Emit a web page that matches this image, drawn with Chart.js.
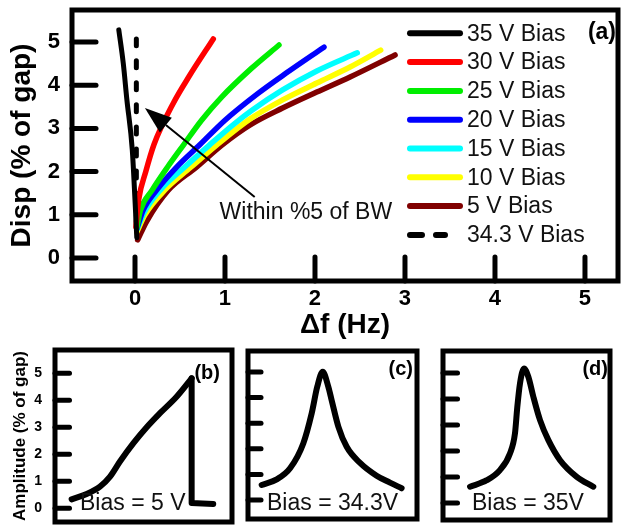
<!DOCTYPE html>
<html><head><meta charset="utf-8">
<script src="https://cdn.jsdelivr.net/npm/chart.js@4.4.1/dist/chart.umd.min.js"></script>
<style>
html,body{margin:0;padding:0;background:#fff;width:621px;height:529px;overflow:hidden;}
canvas{position:absolute;display:block;}
</style></head><body>
<canvas id="ca" width="621" height="340" style="left:0;top:0"></canvas>
<canvas id="cb" width="240" height="194" style="left:0;top:335px"></canvas>
<canvas id="cc" width="190" height="194" style="left:240px;top:335px"></canvas>
<canvas id="cd" width="191" height="194" style="left:430px;top:335px"></canvas>
<script>
// ---------- data ----------
const seriesLabels = ['35 V Bias','30 V Bias','25 V Bias','20 V Bias','15 V Bias','10 V Bias','5 V Bias','34.3 V Bias'];
const seriesColors = ['#000000','#ff0000','#00ee00','#0000ff','#00ffff','#ffff00','#800000','#000000'];
const bias35 = [[-0.18,5.28],[-0.13,4.5],[-0.09,3.66],[-0.03,2.5],[0.0,1.34],[0.02,0.47]];
const bias30 = [[0.01,0.72],[0.04,1.34],[0.12,2.0],[0.21,2.62],[0.43,3.6],[0.6,4.2],[0.87,5.07]];
const bias25 = [[0.02,0.69],[0.06,1.1],[0.19,1.57],[0.36,2.1],[0.54,2.62],[0.74,3.19],[0.96,3.72],[1.3,4.4],[1.6,4.93]];
const bias20 = [[0.02,0.67],[0.09,1.1],[0.24,1.57],[0.46,2.1],[0.72,2.62],[1.0,3.19],[1.36,3.8],[1.68,4.28],[2.1,4.88]];
const bias15 = [[0.02,0.65],[0.1,1.05],[0.28,1.57],[0.55,2.1],[0.83,2.62],[1.1,3.1],[1.3,3.42],[1.64,3.89],[2.02,4.33],[2.47,4.75]];
const bias10 = [[0.02,0.6],[0.11,1.0],[0.33,1.57],[0.62,2.1],[0.91,2.62],[1.28,3.22],[1.64,3.66],[2.02,4.05],[2.39,4.42],[2.73,4.81]];
const bias5  = [[0.03,0.42],[0.13,0.85],[0.37,1.57],[0.68,2.1],[0.97,2.62],[1.28,3.08],[1.64,3.47],[2.02,3.84],[2.39,4.19],[2.89,4.7]];
const bias34_3 = [[0.015,5.07],[0.015,0.55]];
const xTicksA = [0,1,2,3,4,5];
const yTicksA = [0,1,2,3,4,5];
const arrowTail = [1.33,1.41];
const arrowTip = [0.11,3.47];
const annotationText = 'Within %5 of BW';

const panelTicks = [0,1,2,3,4,5];
const panelBRise = [[0.094,0.33],[0.179,0.53],[0.254,0.8],[0.311,1.17],[0.367,1.73],[0.443,2.41],[0.518,3.0],[0.593,3.52],[0.687,4.13],[0.772,4.81]];
const panelBDrop = [[0.772,4.81],[0.772,0.19],[0.894,0.16]];
const panelC = [[0.081,0.59],[0.17,0.81],[0.249,1.24],[0.327,2.21],[0.377,3.39],[0.41,4.43],[0.442,5.01],[0.475,4.43],[0.495,3.9],[0.535,2.86],[0.584,2.08],[0.663,1.45],[0.761,0.95],[0.84,0.68],[0.909,0.46]];
const panelD = [[0.162,0.63],[0.262,0.88],[0.341,1.27],[0.401,1.91],[0.431,2.68],[0.445,3.7],[0.461,4.6],[0.485,5.18],[0.511,4.86],[0.541,4.09],[0.581,3.19],[0.631,2.42],[0.701,1.65],[0.801,1.01],[0.9,0.63]];

// ---------- helpers ----------
const FAM = "'Liberation Sans', Arial, Helvetica, sans-serif";
Chart.defaults.font.family = FAM;
Chart.defaults.color = '#000';

const pts = arr => arr.map(([x,y]) => ({x, y}));
function lineDS(label, arr, color, extra) {
  return Object.assign({
    label, data: pts(arr), borderColor: color, backgroundColor: color,
    borderWidth: 5.5, pointRadius: 0, pointHoverRadius: 0, showLine: true, fill: false,
    cubicInterpolationMode: 'monotone', borderCapStyle: 'round', borderJoinStyle: 'round'
  }, extra || {});
}
function noPadV(s) { s.paddingTop = 0; s.paddingBottom = 0; }
function noPadH(s) { s.paddingLeft = 0; s.paddingRight = 0; }

const frameTicks = {
  id: 'frameTicks',
  beforeDatasetsDraw(chart, args, o) {
    const {ctx, chartArea: a, scales} = chart;
    ctx.save();
    ctx.strokeStyle = '#000';
    ctx.lineWidth = o.frameWidth;
    ctx.strokeRect(a.left, a.top, a.right - a.left, a.bottom - a.top);
    ctx.lineCap = 'round';
    ctx.lineWidth = o.tickWidth;
    (o.yTicks || []).forEach(v => {
      const y = scales.y.getPixelForValue(v);
      ctx.beginPath(); ctx.moveTo(a.left, y); ctx.lineTo(a.left + o.tickLen, y); ctx.stroke();
    });
    (o.xTicks || []).forEach(v => {
      const x = scales.x.getPixelForValue(v);
      ctx.beginPath(); ctx.moveTo(x, a.bottom); ctx.lineTo(x, a.bottom - o.tickLen); ctx.stroke();
    });
    ctx.restore();
  }
};

const texts = {
  id: 'texts',
  afterDatasetsDraw(chart, args, o) {
    const {ctx, scales} = chart;
    ctx.save();
    (o.items || []).forEach(t => {
      ctx.font = t.font;
      ctx.fillStyle = t.color || '#000';
      ctx.textAlign = t.align || 'left';
      ctx.textBaseline = 'middle';
      let x = t.x, y = t.y;
      if (t.dataX !== undefined) { x = scales.x.getPixelForValue(t.dataX); y = scales.y.getPixelForValue(t.dataY); }
      ctx.fillText(t.text, x, y);
    });
    ctx.restore();
  }
};

const arrowPlugin = {
  id: 'arrow',
  afterDatasetsDraw(chart, args, o) {
    if (!o.tail) return;
    const {ctx, scales} = chart;
    const x1 = scales.x.getPixelForValue(o.tail[0]), y1 = scales.y.getPixelForValue(o.tail[1]);
    const x2 = scales.x.getPixelForValue(o.tip[0]), y2 = scales.y.getPixelForValue(o.tip[1]);
    const ang = Math.atan2(y2 - y1, x2 - x1);
    const L = 27, W = 9.5;
    const bx = x2 - L * Math.cos(ang), by = y2 - L * Math.sin(ang);
    ctx.save();
    ctx.strokeStyle = '#000'; ctx.fillStyle = '#000'; ctx.lineWidth = 2;
    ctx.beginPath(); ctx.moveTo(x1, y1); ctx.lineTo(bx, by); ctx.stroke();
    ctx.beginPath();
    ctx.moveTo(x2, y2);
    ctx.lineTo(bx + W * Math.sin(ang), by - W * Math.cos(ang));
    ctx.lineTo(bx - W * Math.sin(ang), by + W * Math.cos(ang));
    ctx.closePath(); ctx.fill();
    ctx.restore();
  }
};

const legendPlugin = {
  id: 'customLegend',
  afterDatasetsDraw(chart, args, o) {
    if (!o.display) return;
    const {ctx} = chart;
    ctx.save();
    ctx.font = o.font;
    ctx.textBaseline = 'middle';
    ctx.textAlign = 'left';
    chart.data.datasets.forEach((ds, i) => {
      const y = o.top + i * o.step;
      ctx.strokeStyle = ds.borderColor;
      ctx.lineWidth = 6;
      ctx.lineCap = 'round';
      ctx.beginPath();
      if (ds.borderDash) {
        ctx.moveTo(o.x0 + 3, y); ctx.lineTo(o.x0 + 15, y);
        ctx.moveTo(o.x0 + 29, y); ctx.lineTo(o.x0 + 38, y);
      } else {
        ctx.moveTo(o.x0 + 3, y); ctx.lineTo(o.x1 - 3, y);
      }
      ctx.stroke();
      ctx.fillStyle = '#111';
      ctx.fillText(ds.label, o.x1 + 4, y + 1);
    });
    ctx.restore();
  }
};

const common = {responsive: false, animation: false, devicePixelRatio: 1, events: []};

// ---------- main chart (a) ----------
const mainSeries = [bias35, bias30, bias25, bias20, bias15, bias10, bias5, bias34_3];
const mainDatasets = mainSeries.map((arr, i) => lineDS(seriesLabels[i], arr, seriesColors[i]));
mainDatasets[0].borderWidth = 5;
mainDatasets[7].borderDash = [7, 15];
mainDatasets[7].borderWidth = 5;

new Chart(document.getElementById('ca'), {
  type: 'scatter',
  data: {datasets: mainDatasets},
  plugins: [frameTicks, texts, arrowPlugin, legendPlugin],
  options: Object.assign({}, common, {
    layout: {padding: {left: 0, right: 3, top: 10, bottom: 0}},
    plugins: {
      legend: {display: false}, tooltip: {enabled: false},
      frameTicks: {frameWidth: 5, tickWidth: 5, tickLen: 24, xTicks: xTicksA, yTicks: yTicksA},
      arrow: {tail: arrowTail, tip: arrowTip},
      customLegend: {display: true, font: '23px ' + FAM, top: 33.3, step: 28.8, x0: 407, x1: 463},
      texts: {items: [
        {text: annotationText, dataX: 0.94, dataY: 1.06, font: '23px ' + FAM, color: '#111'},
        {text: '(a)', x: 616, y: 33, align: 'right', font: 'bold 23px ' + FAM}
      ]}
    },
    scales: {
      x: {
        type: 'linear', position: 'bottom', min: -0.7, max: 5.367,
        afterBuildTicks: s => { s.ticks = xTicksA.map(v => ({value: v})); },
        afterFit: s => { s.height = 59; noPadH(s); },
        grid: {display: false, drawTicks: false}, border: {display: false},
        ticks: {font: {size: 22, weight: 'bold'}, color: '#000', padding: 5, maxRotation: 0, autoSkip: false},
        title: {display: true, text: 'Δf (Hz)', font: {size: 28, weight: 'bold'}, color: '#000', padding: {top: 0, bottom: -2}}
      },
      y: {
        type: 'linear', position: 'left', min: -0.532, max: 5.74,
        afterBuildTicks: s => { s.ticks = yTicksA.map(v => ({value: v})); },
        afterFit: s => { s.width = 72; noPadV(s); },
        grid: {display: false, drawTicks: false}, border: {display: false},
        ticks: {font: {size: 22, weight: 'bold'}, color: '#000', padding: 12},
        title: {display: true, text: 'Disp (% of gap)', font: {size: 28, weight: 'bold'}, color: '#000', padding: {top: 5, bottom: 0}}
      }
    }
  })
});

// ---------- panel (b) ----------
new Chart(document.getElementById('cb'), {
  type: 'scatter',
  data: {datasets: [
    lineDS('Bias = 5 V', panelBRise, '#000', {borderWidth: 6}),
    lineDS('Bias = 5 V drop', panelBDrop, '#000', {borderWidth: 6, cubicInterpolationMode: 'default', tension: 0})
  ]},
  plugins: [frameTicks, texts],
  options: Object.assign({}, common, {
    layout: {padding: {left: 0, right: 8, top: 15, bottom: 7}},
    plugins: {
      legend: {display: false}, tooltip: {enabled: false},
      frameTicks: {frameWidth: 5, tickWidth: 5, tickLen: 14.5, yTicks: panelTicks},
      texts: {items: [
        {text: '(b)', x: 220, y: 38, align: 'right', font: 'bold 20px ' + FAM},
        {text: 'Bias = 5 V', x: 80, y: 169, font: '23px ' + FAM, color: '#111'}
      ]}
    },
    scales: {
      x: {type: 'linear', min: 0, max: 1, display: false},
      y: {
        type: 'linear', position: 'left', min: -0.51, max: 5.86,
        afterBuildTicks: s => { s.ticks = panelTicks.map(v => ({value: v})); },
        afterFit: s => { s.width = 55; noPadV(s); },
        grid: {display: false, drawTicks: false}, border: {display: false},
        ticks: {font: {size: 14, weight: 'bold'}, color: '#000', padding: 13},
        title: {display: true, text: 'Amplitude (% of gap)', font: {size: 17, weight: 'bold'}, color: '#000', padding: {top: 10, bottom: 0}}
      }
    }
  })
});

// ---------- panel (c) ----------
new Chart(document.getElementById('cc'), {
  type: 'scatter',
  data: {datasets: [lineDS('Bias = 34.3V', panelC, '#000', {borderWidth: 6})]},
  plugins: [frameTicks, texts],
  options: Object.assign({}, common, {
    layout: {padding: {left: 8, right: 13, top: 16, bottom: 10}},
    plugins: {
      legend: {display: false}, tooltip: {enabled: false},
      frameTicks: {frameWidth: 5, tickWidth: 5, tickLen: 13, yTicks: panelTicks},
      texts: {items: [
        {text: '(c)', x: 173, y: 34, align: 'right', font: 'bold 20px ' + FAM},
        {text: 'Bias = 34.3V', x: 27, y: 169, font: '23px ' + FAM, color: '#111'}
      ]}
    },
    scales: {
      x: {type: 'linear', min: 0, max: 1, display: false},
      y: {type: 'linear', min: -0.74, max: 5.82, display: false}
    }
  })
});

// ---------- panel (d) ----------
new Chart(document.getElementById('cd'), {
  type: 'scatter',
  data: {datasets: [lineDS('Bias = 35V', panelD, '#000', {borderWidth: 6})]},
  plugins: [frameTicks, texts],
  options: Object.assign({}, common, {
    layout: {padding: {left: 13, right: 11, top: 16, bottom: 9}},
    plugins: {
      legend: {display: false}, tooltip: {enabled: false},
      frameTicks: {frameWidth: 5, tickWidth: 5, tickLen: 14.5, yTicks: panelTicks},
      texts: {items: [
        {text: '(d)', x: 178, y: 34, align: 'right', font: 'bold 20px ' + FAM},
        {text: 'Bias = 35V', x: 42, y: 169, font: '23px ' + FAM, color: '#111'}
      ]}
    },
    scales: {
      x: {type: 'linear', min: 0, max: 1, display: false},
      y: {type: 'linear', min: -0.65, max: 5.85, display: false}
    }
  })
});
</script>
</body></html>
